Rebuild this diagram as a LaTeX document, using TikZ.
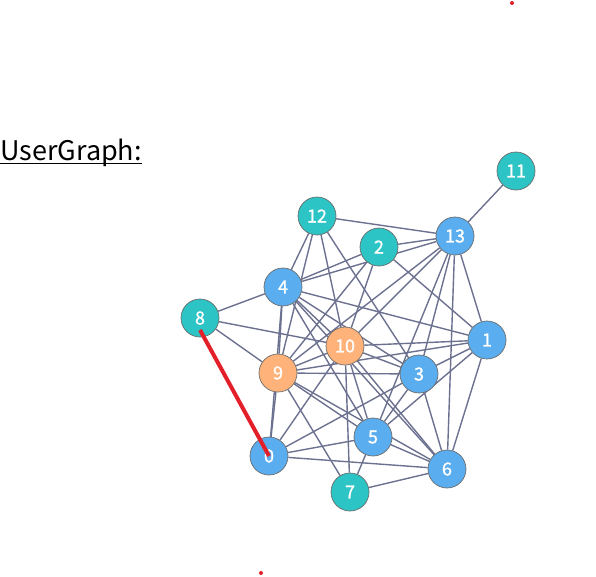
\documentclass[tikz,border=0pt]{standalone}
\usepackage{fontspec}
\setmainfont{Noto Sans CJK SC}
\newfontfamily\vertexfont[FakeBold=1.2]{Noto Sans CJK SC}
\pgfdeclarelayer{bg}
\pgfsetlayers{bg,main}
\definecolor{userblue}{HTML}{5AADEE}
\definecolor{userteal}{HTML}{2CC4C5}
\definecolor{userorange}{HTML}{FFB27A}
\definecolor{linkgray}{HTML}{6C7190}
\definecolor{rimgray}{HTML}{6B6B6B}
\definecolor{markred}{HTML}{E3202A}
\tikzset{
  vertex/.style={circle, draw=rimgray, line width=0.7pt, minimum size=38pt, inner sep=0pt,
    text=white, font=\vertexfont\fontsize{18}{18}\selectfont},
  bluevertex/.style={vertex, fill=userblue},
  tealvertex/.style={vertex, fill=userteal},
  orangevertex/.style={vertex, fill=userorange},
  link/.style={draw=linkgray, line width=1.4pt},
}

\begin{document}
\begin{tikzpicture}[x=1pt, y=-1pt]
   \useasboundingbox (0,0) rectangle (596,576);
   % title
   \node (title) [anchor=base west, inner sep=0pt, font=\fontsize{27}{27}\selectfont] at (0,160) {UserGraph:};
   \draw[line width=1.8pt] ([yshift=-3.5pt]title.base west) -- ([yshift=-3.5pt]title.base east);
   % vertices
   \node (n0)  [bluevertex]   at (269,456) {0};
   \node (n1)  [bluevertex]   at (487,340) {1};
   \node (n2)  [tealvertex]   at (379,247) {2};
   \node (n3)  [bluevertex]   at (419,374) {3};
   \node (n4)  [bluevertex]   at (283,287) {4};
   \node (n5)  [bluevertex]   at (373,437) {5};
   \node (n6)  [bluevertex]   at (447,469) {6};
   \node (n7)  [tealvertex]   at (350,492) {7};
   \node (n8)  [tealvertex]   at (200,318) {8};
   \node (n9)  [orangevertex] at (278,373) {9};
   \node (n10) [orangevertex] at (345,346) {10};
   \node (n11) [tealvertex]   at (516,171) {11};
   \node (n12) [tealvertex]   at (317,216) {12};
   \node (n13) [bluevertex]   at (455,236) {13};
   % links
   \begin{pgfonlayer}{bg}
   \path[link] (n13) edge (n11) edge (n12) edge (n2) edge (n4) edge (n9) edge (n10) edge (n3) edge (n6) edge (n1) edge (n5);
   \path[link] (n12) edge (n4) edge (n9) edge (n10) edge (n3);
   \path[link] (n2) edge (n4) edge (n9) edge (n10) edge (n1);
   \path[link] (n4) edge (n8) edge (n9) edge (n0) edge (n1) edge (n10) edge (n3) edge (n5) edge (n6);
   \path[link] (n8) edge (n9) edge (n10);
   \path[link] (n9) edge (n0) edge (n10) edge (n1) edge (n3) edge (n5) edge (n6) edge (n7);
   \path[link] (n10) edge (n1) edge (n3) edge (n5) edge (n6) edge (n7) edge (n0);
   \path[link] (n1) edge (n3) edge (n5) edge (n6);
   \path[link] (n3) edge (n5) edge (n6) edge (n0);
   \path[link] (n5) edge (n0) edge (n6) edge (n7);
   \path[link] (n6) edge (n0) edge (n7);
   \end{pgfonlayer}
   % marked link
   \draw[markred, line width=4pt] ([yshift=-12pt]n8.center) -- (n0.center);
   % stray points
   \fill[markred] (512,3) circle (2);
   \fill[markred] (261,573) circle (2);
\end{tikzpicture}
\end{document}
